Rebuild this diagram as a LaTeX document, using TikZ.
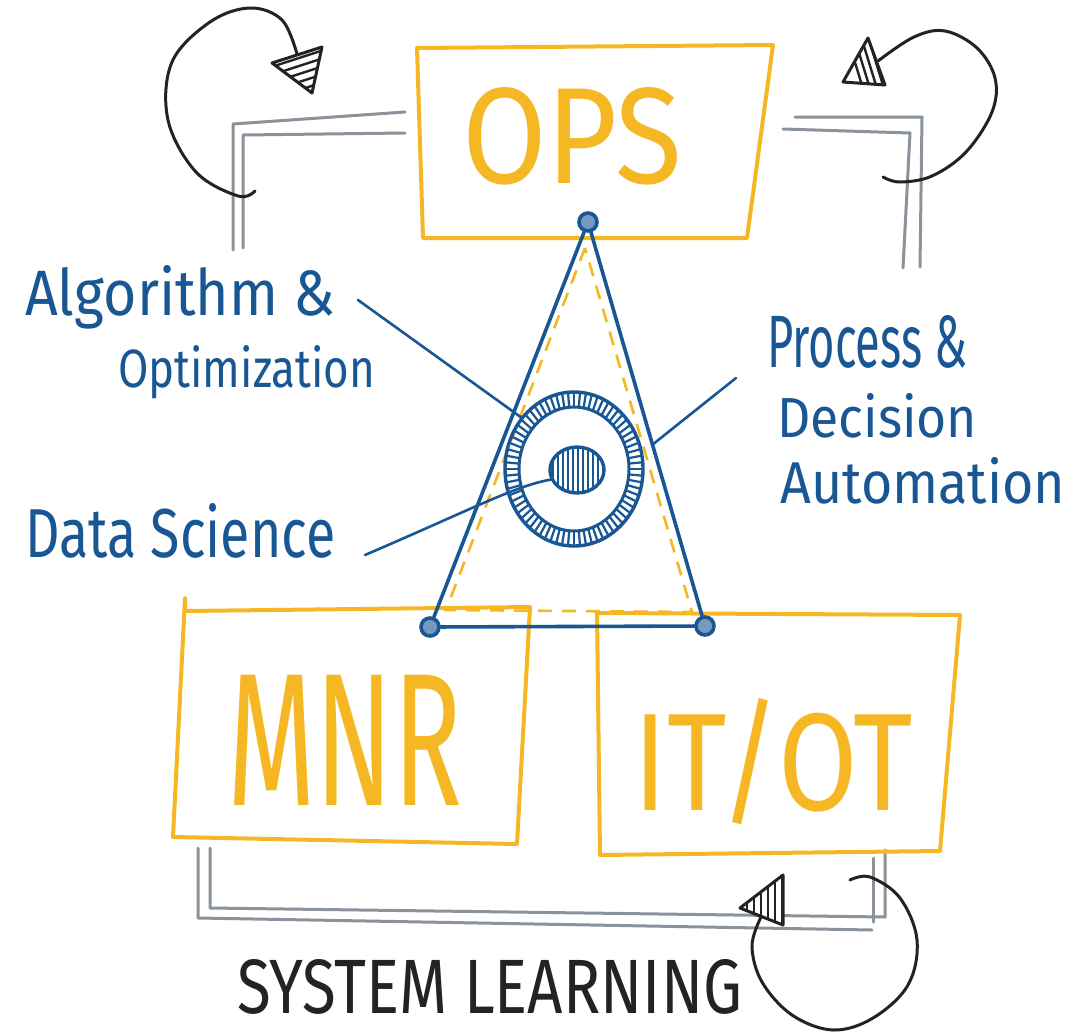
\documentclass[tikz,border=0pt]{standalone}
\usepackage{fontspec}
\usepackage{graphicx}
\newfontfamily\hand{Fira Sans}
\usetikzlibrary{shapes.geometric}
\definecolor{yel}{RGB}{245,184,36}
\definecolor{blu}{RGB}{24,86,148}
\definecolor{gry}{RGB}{138,147,155}
\definecolor{blk}{RGB}{35,35,35}
\begin{document}
\begin{tikzpicture}[x=1pt,y=-1pt,
  ybox/.style={draw=yel, line width=4pt, line join=round, line cap=round},
  bl/.style={draw=blu, line width=3.6pt, line cap=round, line join=round},
  lead/.style={draw=blu, line width=2.6pt, line cap=round},
  gr/.style={draw=gry, line width=3pt, line cap=round, line join=round},
  loopline/.style={draw=blk, line width=3pt, line cap=round},
  headtri/.style={draw=blk, line width=3pt, line join=round, fill=white},
  lbl/.style={inner sep=0pt, anchor=base west, text=blu},
  ytxt/.style={inner sep=0pt, anchor=base west, text=yel},
  vtx/.style={circle, draw=blu, line width=3.6pt, fill=blu!60!white, minimum size=18pt, inner sep=0pt},
]
\useasboundingbox (0,0) rectangle (1092,1033);
\fill[white] (0,0) rectangle (1092,1033);

% ---------- grey double connectors ----------
\draw[gr] (405,112) -- (233,124) -- (233,250);
\draw[gr] (405,133) -- (243,135) -- (243,248);
\draw[gr] (795,117) -- (922,117) -- (920,267);
\draw[gr] (783,129) -- (910,133) -- (903,268);
\draw[gr] (198,848) -- (198,918) -- (872,930);
\draw[gr] (210,848) -- (210,908) -- (885,917) -- (885,850);
\draw[gr] (873,858) -- (873,922);

% ---------- yellow boxes ----------
\coordinate (ops1) at (417,48);
\coordinate (ops2) at (773,45);
\coordinate (ops3) at (747,238);
\coordinate (ops4) at (423,238);
\draw[ybox] (ops1) -- (ops2) -- (ops3) -- (ops4) -- cycle;

\coordinate (mnr1) at (185,611);
\coordinate (mnr2) at (530,607);
\coordinate (mnr3) at (517,844);
\coordinate (mnr4) at (173,837);
\draw[ybox] (185,598) -- (mnr1) -- (mnr2) -- (mnr3) -- (mnr4) -- cycle;

\coordinate (it1) at (604,613);
\coordinate (it2) at (960,615);
\coordinate (it3) at (940,851);
\coordinate (it4) at (600,855);
\draw[ybox] (597,613) -- (it1) -- (it2) -- (it3) -- (it4) -- cycle;

\node[ytxt] (ops) at (462,183) {\resizebox{220pt}{96pt}{\hand OPS}};
\node[ytxt] (mnr) at (227,805) {\resizebox{235pt}{130pt}{\hand MNR}};
\node[ytxt] (itot) at (633,810) {\resizebox{280pt}{112pt}{\hand IT/OT}};

% ---------- dashed yellow triangle ----------
\draw[draw=yel, line width=2.6pt, dash pattern=on 14pt off 10pt]
  (585,248) -- (446,610) -- (692,612) -- cycle;

% ---------- circles ----------
\foreach \a in {0,5,...,355}
  \draw[blu, line width=2.2pt] ({574+55*cos(\a)},{469+62*sin(\a)}) -- ({574+69*cos(\a)},{469+77*sin(\a)});
\node[ellipse, draw=blu, line width=3.4pt, minimum width=138pt, minimum height=154pt, inner sep=0pt] (ring) at (574,469) {};
\node[ellipse, draw=blu, line width=3pt, minimum width=110pt, minimum height=124pt, inner sep=0pt] (ringin) at (574,469) {};
\begin{scope}
  \clip (577,470) ellipse [x radius=27, y radius=23];
  \foreach \d in {-24,-19,...,26}
    \draw[blu, line width=2.2pt] (577+\d,445) -- (577+\d,495);
\end{scope}
\node[ellipse, draw=blu, line width=3.4pt, minimum width=54pt, minimum height=46pt, inner sep=0pt] (core) at (577,470) {};

% ---------- blue triangle ----------
\node[vtx] (vt) at (588,222) {};
\node[vtx] (vl) at (430,627) {};
\node[vtx] (vr) at (705,626) {};
\draw[bl] (vt) -- (vl);
\draw[bl] (vl) -- (vr);
\draw[bl] (vr) -- (vt);

% ---------- labels ----------
\node[lbl] (algo) at (25,315) {\resizebox{310pt}{50pt}{\hand Algorithm \&}};
\node[lbl] (opt) at (118,387) {\resizebox{257pt}{42pt}{\hand Optimization}};
\node[lbl] (ds) at (25,557) {\resizebox{310pt}{54pt}{\hand Data Science}};
\node[lbl] (proc) at (767,367) {\resizebox{200pt}{52pt}{\hand Process \&}};
\node[lbl] (dec) at (777,437) {\resizebox{200pt}{44pt}{\hand Decision}};
\node[lbl] (auto) at (780,503) {\resizebox{285pt}{46pt}{\hand Automation}};
\node[inner sep=0pt, anchor=base west, text=blk] (sl) at (237,1013) {\resizebox{505pt}{54pt}{\hand SYSTEM LEARNING}};

% ---------- leader lines ----------
\coordinate (algoEnd) at (358,300);
\coordinate (algoTip) at (522,418);
\draw[lead] (algoEnd) -- (algoTip);
\coordinate (dsEnd) at (365,555);
\draw[lead] (dsEnd) .. controls (470,510) and (515,486) .. (core.200);
\coordinate (procEnd) at (736,378);
\coordinate (procTip) at (652,445);
\draw[lead] (procEnd) -- (procTip);

% ---------- black loop arrows ----------
% top left
\draw[loopline] plot[smooth, tension=0.6] coordinates
  {(255,191) (238,196) (196,172) (168,120) (172,62) (210,22) (250,8) (282,20) (297,54)};
\draw[headtri] (272,63) -- (322,47) -- (312,93) -- cycle;
\begin{scope}
  \clip (272,63) -- (322,47) -- (312,93) -- cycle;
  \foreach \k in {0,8,...,48}
    \draw[blk, line width=2.4pt] (262,70+\k) -- (330,48+\k);
\end{scope}
% top right
\draw[loopline] plot[smooth, tension=0.6] coordinates
  {(883,177) (900,182) (932,176) (966,152) (992,112) (995,78) (977,48) (945,31) (914,37) (878,61)};
\draw[headtri] (843,82) -- (868,38) -- (885,85) -- cycle;
\begin{scope}
  \clip (843,82) -- (868,38) -- (885,85) -- cycle;
  \foreach \k in {0,7,...,42}
    \draw[blk, line width=2.4pt] (845+\k,30) -- (865+\k,95);
\end{scope}
% bottom
\draw[loopline] plot[smooth, tension=0.6] coordinates
  {(850,880) (870,877) (900,898) (917,940) (908,985) (873,1018) (833,1030) (792,1015) (762,982) (752,946) (761,917)};
\draw[headtri] (740,908) -- (783,875) -- (783,925) -- cycle;
\begin{scope}
  \clip (740,908) -- (783,875) -- (783,925) -- cycle;
  \foreach \k in {0,7,...,42}
    \draw[blk, line width=2.4pt] (740+\k,870) -- (740+\k,930);
\end{scope}
\end{tikzpicture}
\end{document}
